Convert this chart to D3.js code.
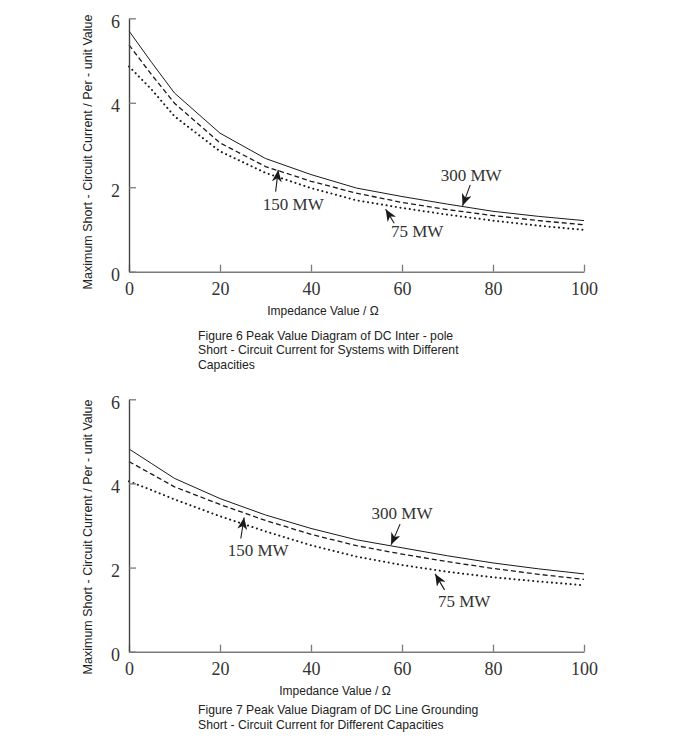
<!DOCTYPE html>
<html>
<head>
<meta charset="utf-8">
<script src="https://cdn.jsdelivr.net/npm/d3@7"></script>
<style>
  html, body { margin: 0; padding: 0; background: #fff; }
  svg { display: block; }
</style>
</head>
<body>
<svg id="chart" width="677" height="739"></svg>
<script>
// ---------------- DATA ----------------
const impedance = [0, 5, 10, 20, 30, 40, 50, 60, 70, 80, 90, 100];

// Figure 6: DC inter-pole short-circuit current peak (p.u.)
const fig6_300MW = [5.70, 4.95, 4.23, 3.28, 2.68, 2.30, 1.98, 1.78, 1.60, 1.43, 1.31, 1.21];
const fig6_150MW = [5.37, 4.66, 3.99, 3.05, 2.49, 2.14, 1.86, 1.64, 1.47, 1.33, 1.21, 1.11];
const fig6_75MW  = [4.86, 4.31, 3.68, 2.85, 2.34, 1.98, 1.69, 1.51, 1.35, 1.21, 1.09, 0.99];

// Figure 7: DC line grounding short-circuit current peak (p.u.)
const fig7_300MW = [4.82, 4.47, 4.12, 3.64, 3.25, 2.93, 2.66, 2.47, 2.28, 2.11, 1.97, 1.85];
const fig7_150MW = [4.52, 4.22, 3.92, 3.50, 3.12, 2.79, 2.52, 2.32, 2.14, 1.98, 1.84, 1.72];
const fig7_75MW  = [4.05, 3.84, 3.62, 3.22, 2.86, 2.53, 2.26, 2.06, 1.90, 1.77, 1.67, 1.58];

const seriesNames = ["300 MW", "150 MW", "75 MW"];
const xTicks = [0, 20, 40, 60, 80, 100];
const yTicks = [0, 2, 4, 6];

// annotation anchor points (data units) : [label, impedance, current]
const fig6_annotations = [["300 MW", 73.3, 1.56], ["150 MW", 32.8, 2.41], ["75 MW", 56.4, 1.48]];
const fig7_annotations = [["300 MW", 57.6, 2.54], ["150 MW", 25.3, 3.19], ["75 MW", 67.3, 1.85]];

const xTitle = "Impedance Value / \u03A9";
const yTitle = "Maximum Short - Circuit Current / Per - unit Value";
const fig6_caption = ["Figure 6 Peak Value Diagram of DC Inter - pole",
                      "Short - Circuit Current for Systems with Different",
                      "Capacities"];
const fig7_caption = ["Figure 7 Peak Value Diagram of DC Line Grounding",
                      "Short - Circuit Current for Different Capacities"];

// ---------------- LAYOUT / STYLE ----------------
const svg = d3.select("#chart");
const serif = "'Liberation Serif', 'Times New Roman', serif";
const sans = "'Liberation Sans', Arial, sans-serif";

const styles = [
  { dash: null, width: 1.0, color: "#1a1a1a" },
  { dash: "5,3", width: 1.3, color: "#1a1a1a" },
  { dash: "0.1,4.6", width: 2.0, color: "#1a1a1a", cap: "round" }
];

// annotation layout offsets relative to anchor (px): shaft start sx,sy ; text tx,ty
const annLayout6 = {
  "300 MW": { sx: 7.7, sy: -21, tx: 8.7, ty: -25 },
  "150 MW": { sx: -2.6, sy: 21.7, tx: 15, ty: 40 },
  "75 MW":  { sx: 8.6, sy: 14, tx: 31.5, ty: 28 }
};
const annLayout7 = {
  "300 MW": { sx: 9, sy: -20.7, tx: 11, ty: -25.7 },
  "150 MW": { sx: -3.3, sy: 21, tx: 14, ty: 38.7 },
  "75 MW":  { sx: 9.3, sy: 16, tx: 29, ty: 32.7 }
};

// arrow marker
svg.append("defs").append("marker")
  .attr("id", "arrow")
  .attr("viewBox", "0 0 12 10")
  .attr("refX", 12).attr("refY", 5)
  .attr("markerWidth", 12).attr("markerHeight", 10)
  .attr("markerUnits", "userSpaceOnUse")
  .attr("orient", "auto")
  .append("path")
  .attr("d", "M0,0 L12,5 L0,10 L3.5,5 Z")
  .attr("fill", "#1a1a1a");

function drawChart(cfg) {
  const x = d3.scaleLinear().domain([0, 100]).range([129, 584]);
  const y = d3.scaleLinear().domain([0, 6]).range([cfg.bottom, cfg.top]);
  const g = svg.append("g");

  // lines
  const line = d3.line().x((d) => x(d[0])).y((d) => y(d[1])).curve(d3.curveLinear);
  cfg.series.forEach((vals, i) => {
    const st = styles[i];
    g.append("path")
      .datum(impedance.map((xi, k) => [xi, vals[k]]))
      .attr("d", line)
      .attr("fill", "none")
      .attr("stroke", st.color)
      .attr("stroke-width", st.width)
      .attr("stroke-linecap", st.cap || "butt")
      .attr("stroke-dasharray", st.dash);
  });

  // x axis
  const xa = g.append("g")
    .attr("transform", `translate(0,${cfg.bottom})`)
    .call(d3.axisBottom(x).tickValues(xTicks).tickFormat(d3.format("d"))
      .tickSizeInner(-7).tickSizeOuter(0).tickPadding(11));
  xa.select(".domain").attr("stroke", "#7a7a7a").attr("stroke-width", 1.6);
  xa.selectAll(".tick line").attr("stroke", "#7a7a7a").attr("stroke-width", 1.3);
  xa.selectAll(".tick text")
    .attr("font-family", serif).attr("font-size", 18).attr("fill", "#333");

  // y axis
  const ya = g.append("g")
    .attr("transform", `translate(129,0)`)
    .call(d3.axisLeft(y).tickValues(yTicks).tickFormat(d3.format("d"))
      .tickSizeInner(-7).tickSizeOuter(0).tickPadding(9));
  ya.select(".domain").attr("stroke", "#444").attr("stroke-width", 1.4);
  ya.selectAll(".tick line").attr("stroke", "#7a7a7a").attr("stroke-width", 1.3);
  ya.selectAll(".tick text")
    .attr("font-family", serif).attr("font-size", 18).attr("fill", "#333")
    .attr("dy", "0.5em");

  // axis titles
  g.append("text")
    .attr("x", cfg.xTitleX).attr("y", cfg.bottom + 43)
    .attr("text-anchor", "middle")
    .attr("font-family", sans).attr("font-size", 12).attr("fill", "#222")
    .text(xTitle);
  g.append("text")
    .attr("transform", `translate(92,${cfg.yTitleY}) rotate(-90)`)
    .attr("text-anchor", "middle")
    .attr("font-family", sans).attr("font-size", 12.5).attr("fill", "#222")
    .text(yTitle);

  // annotations
  cfg.annotations.forEach(([label, ax, ay]) => {
    const L = cfg.annLayout[label];
    const px = x(ax), py = y(ay);
    g.append("line")
      .attr("x1", px + L.sx).attr("y1", py + L.sy)
      .attr("x2", px).attr("y2", py)
      .attr("stroke", "#1a1a1a").attr("stroke-width", 1.1)
      .attr("marker-end", "url(#arrow)");
    g.append("text")
      .attr("x", px + L.tx).attr("y", py + L.ty)
      .attr("text-anchor", "middle")
      .attr("font-family", serif).attr("font-size", 17).attr("fill", "#333")
      .text(label);
  });

  // caption
  const cap = g.append("text")
    .attr("font-family", sans).attr("font-size", 12.2).attr("fill", "#222");
  cfg.caption.forEach((t, i) => {
    cap.append("tspan").attr("x", 198).attr("y", cfg.captionY + i * 14.5).text(t);
  });
}

drawChart({
  top: 18.3, bottom: 271.7,
  series: [fig6_300MW, fig6_150MW, fig6_75MW],
  annotations: fig6_annotations, annLayout: annLayout6,
  xTitleX: 323, yTitleY: 152,
  caption: fig6_caption, captionY: 339.5
});
drawChart({
  top: 399.3, bottom: 651.7,
  series: [fig7_300MW, fig7_150MW, fig7_75MW],
  annotations: fig7_annotations, annLayout: annLayout7,
  xTitleX: 335, yTitleY: 537,
  caption: fig7_caption, captionY: 714
});
</script>
</body>
</html>
